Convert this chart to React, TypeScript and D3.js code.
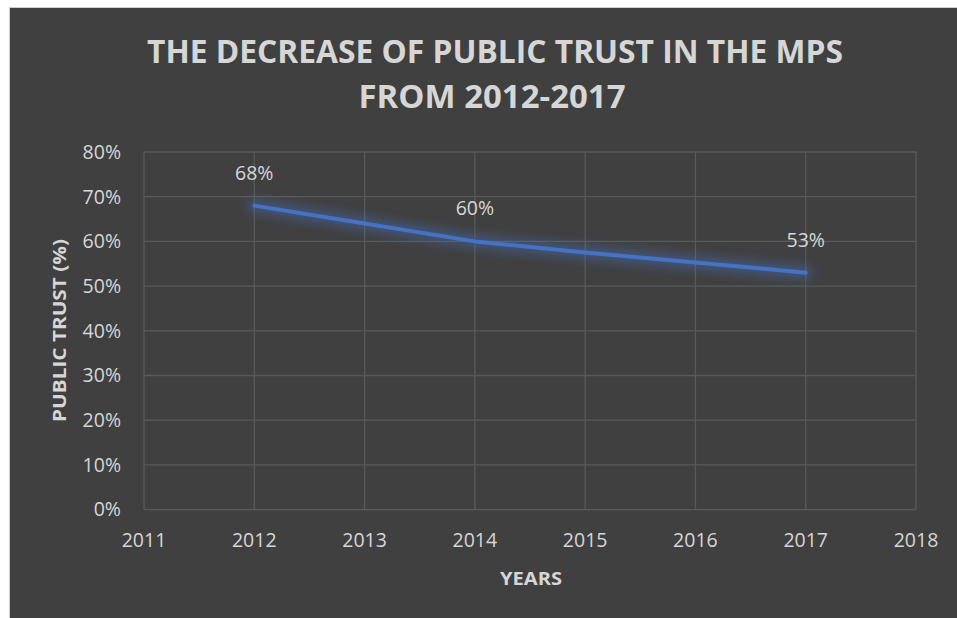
import React from "react";
import * as d3 from "d3";

const years = [2012, 2013, 2014, 2015, 2016, 2017];
const trust = [68, 64, 60, 57.5, 55.3, 53];
const labelYears = [2012, 2014, 2017];
const xTicks = [2011, 2012, 2013, 2014, 2015, 2016, 2017, 2018];
const yTicks = [0, 10, 20, 30, 40, 50, 60, 70, 80];
const titleLines = ["THE DECREASE OF PUBLIC TRUST IN THE MPS", "FROM 2012-2017"];
const xTitle = "YEARS";
const yTitle = "PUBLIC TRUST  (%)";

const W = 957;
const H = 618;
const FONT = "'Open Sans', 'Noto Sans', sans-serif";
const TXT = "#d6d6d6";
const GRID = "#5a5a5a";

export default function App() {
  const x = d3.scaleLinear().domain([2011, 2018]).range([144, 916]);
  const y = d3.scaleLinear().domain([0, 80]).range([509.6, 152]);
  const pts = years.map((yr, i) => ({ yr, v: trust[i] }));
  const line = d3
    .line<{ yr: number; v: number }>()
    .x((d) => x(d.yr))
    .y((d) => y(d.v));
  const path = line(pts) || "";

  return (
    <svg
      width={W}
      height={H}
      style={{ position: "absolute", left: 0, top: 0, display: "block" }}
    >
      <defs>
        <filter id="glow" x="-20%" y="-50%" width="140%" height="200%">
          <feGaussianBlur stdDeviation="5.5" />
        </filter>
      </defs>
      <rect x={0} y={0} width={W} height={H} fill="#ffffff" />
      <rect x={9.5} y={7.5} width={W + 20} height={H + 20} fill="#404040" stroke="#d0d0d0" strokeWidth={1} />

      {/* title */}
      <text
        x={495}
        y={63}
        textAnchor="middle"
        fill={TXT}
        fontFamily={FONT}
        fontWeight="bold"
        fontSize={32}
        textLength={696}
        lengthAdjust="spacingAndGlyphs"
      >
        {titleLines[0]}
      </text>
      <text
        x={492}
        y={108}
        textAnchor="middle"
        fill={TXT}
        fontFamily={FONT}
        fontWeight="bold"
        fontSize={32}
        textLength={267}
        lengthAdjust="spacingAndGlyphs"
      >
        {titleLines[1]}
      </text>

      {/* grid */}
      {yTicks.map((t) => (
        <line
          key={"gy" + t}
          x1={x(2011)}
          x2={x(2018)}
          y1={y(t)}
          y2={y(t)}
          stroke={GRID}
          strokeWidth={1.3}
        />
      ))}
      {xTicks.map((t) => (
        <line
          key={"gx" + t}
          x1={x(t)}
          x2={x(t)}
          y1={y(0)}
          y2={y(80)}
          stroke={GRID}
          strokeWidth={1.3}
        />
      ))}

      {/* y tick labels */}
      {yTicks.map((t) => (
        <text
          key={"ty" + t}
          x={121}
          y={y(t)}
          dy="0.35em"
          textAnchor="end"
          fill={TXT}
          fontFamily={FONT}
          fontSize={19.5}
        >
          {t + "%"}
        </text>
      ))}
      {/* x tick labels */}
      {xTicks.map((t) => (
        <text
          key={"tx" + t}
          x={x(t)}
          y={547}
          textAnchor="middle"
          fill={TXT}
          fontFamily={FONT}
          fontSize={19.5}
        >
          {t}
        </text>
      ))}

      {/* axis titles */}
      <text
        x={531}
        y={585}
        textAnchor="middle"
        fill={TXT}
        fontFamily={FONT}
        fontWeight="bold"
        fontSize={18}
        textLength={62}
        lengthAdjust="spacingAndGlyphs"
      >
        {xTitle}
      </text>
      <text
        transform={`translate(66,330.5) rotate(-90)`}
        textAnchor="middle"
        fill={TXT}
        fontFamily={FONT}
        fontWeight="bold"
        fontSize={18}
        textLength={183}
        lengthAdjust="spacingAndGlyphs"
      >
        {yTitle}
      </text>

      {/* line with glow */}
      <path
        d={path}
        fill="none"
        stroke="#4472c4"
        strokeWidth={13}
        strokeOpacity={0.45}
        strokeLinecap="round"
        strokeLinejoin="round"
        filter="url(#glow)"
      />
      <path
        d={path}
        fill="none"
        stroke="#4472c4"
        strokeWidth={4}
        strokeLinecap="round"
        strokeLinejoin="round"
      />

      {/* data labels */}
      {pts
        .filter((p) => labelYears.includes(p.yr))
        .map((p) => (
          <text
            key={"dl" + p.yr}
            x={x(p.yr)}
            y={y(p.v) - 26}
            textAnchor="middle"
            fill={TXT}
            fontFamily={FONT}
            fontSize={19.5}
          >
            {Math.round(p.v) + "%"}
          </text>
        ))}
    </svg>
  );
}
